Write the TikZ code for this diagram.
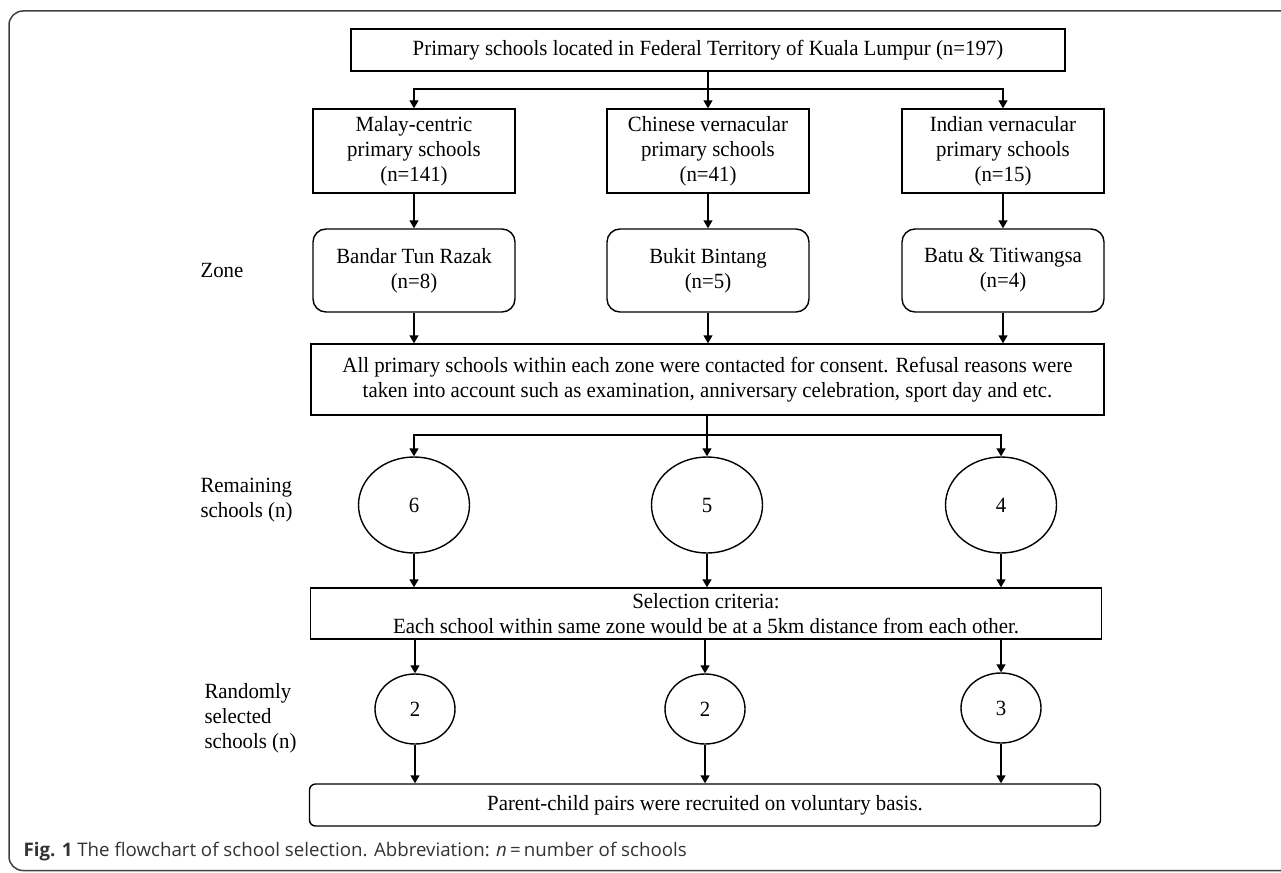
\documentclass[tikz,border=0pt]{standalone}
\usepackage{fontspec}
\setmainfont[FakeStretch=0.96]{Liberation Serif}
\newfontfamily\capfont{Open Sans}
\usetikzlibrary{arrows.meta}
\usetikzlibrary{positioning}
\usetikzlibrary{shapes.geometric}

\begin{document}
\begin{tikzpicture}
            [x=1pt, y=-1pt,
            every node/.style={font=\fontsize{21.7}{25}\selectfont},
            box/.style={draw, line width=1.4pt, inner sep=0pt, align=center},
            zonebox/.style={box, rounded corners=13pt},
            endbox/.style={box, rounded corners=6pt},
            count/.style={draw, ellipse, line width=1.4pt, inner sep=0pt},
            line/.style={line width=1.4pt},
            link/.style={line width=1.4pt, -{Triangle[length=8pt, width=9pt]}},
            ]
            \colorlet{framecolor}{black!75}
            \colorlet{captioncolor}{black!80}
            \useasboundingbox (0,0) rectangle (1281,872);
            % frame
            \draw[framecolor, line width=1.5pt, rounded corners=14pt]
                (1320,11) -- (9,11) -- (9,870.5) -- (1320,870.5);

            % schools
            \node[box, minimum width=714pt, minimum height=42pt] (schools) at (708,50)
                {Primary schools located in Federal Territory of Kuala Lumpur (n=197)};
            \node[box, minimum width=202pt, minimum height=84pt] (malay) at (414,151)
                {Malay-centric\\primary schools\\(n=141)};
            \node[box, minimum width=202pt, minimum height=84pt] (chinese) at (708,151)
                {Chinese vernacular\\primary schools\\(n=41)};
            \node[box, minimum width=202pt, minimum height=84pt] (indian) at (1003,151)
                {Indian vernacular\\primary schools\\(n=15)};

            % zones
            \node at (222,270) (zone) {Zone};
            \node[zonebox, minimum width=202pt, minimum height=83pt] (razak) at (414,270.5)
                {Bandar Tun Razak\\(n=8)};
            \node[zonebox, minimum width=202pt, minimum height=83pt] (bintang) at (708,270.5)
                {Bukit Bintang\\(n=5)};
            \node[zonebox, minimum width=202pt, minimum height=83pt] (titiwangsa) at (1003,270.5)
                {Batu \& Titiwangsa\\(n=4)};

            \node[box, minimum width=793pt, minimum height=71pt] (contact) at (707.5,379.5)
                {All primary schools within each zone were contacted for consent. Refusal reasons were\\
                 taken into account such as examination, anniversary celebration, sport day and etc.};

            % remaining
            \node[anchor=west, align=left] (remaining) at (197,500) {Remaining\\schools (n)};
            \node[count, minimum width=111pt, minimum height=96pt] (remain6) at (414,505) {6};
            \node[count, minimum width=111pt, minimum height=96pt] (remain5) at (707,505) {5};
            \node[count, minimum width=111pt, minimum height=96pt] (remain4) at (1001,505) {4};

            \node[box, minimum width=791pt, minimum height=51pt] (criteria) at (706,613.5)
                {Selection criteria:\\Each school within same zone would be at a 5km distance from each other.};

            % randomly selected
            \node[anchor=west, align=left] (randomly) at (201,718) {Randomly\\selected\\schools (n)};
            \node[count, minimum width=80pt, minimum height=70pt] (rand2a) at (415,709) {2};
            \node[count, minimum width=80pt, minimum height=70pt] (rand2b) at (705,709) {2};
            \node[count, minimum width=80pt, minimum height=70pt] (rand3) at (1001,708) {3};

            \node[endbox, minimum width=791pt, minimum height=42pt] (parents) at (705,805)
                {Parent-child pairs were recruited on voluntary basis.};

            % caption
            \node[anchor=west, text=captioncolor, font=\capfont\fontsize{18.7}{22}\selectfont] (caption) at (20,852)
                {\textbf{Fig. 1} The flowchart of school selection. Abbreviation: \textit{n}\,=\,number of schools};

            % links
            \coordinate (split1) at (708,89);
            \coordinate (split2) at (707,435);
            \draw[link] (schools) -- (chinese);
            \draw[link] (split1) -| (malay);
            \draw[link] (split1) -| (indian);

            \draw[link] (malay) -- (razak);
            \draw[link] (chinese) -- (bintang);
            \draw[link] (indian) -- (titiwangsa);

            \draw[link] (razak) -- (razak |- contact.north);
            \draw[link] (bintang) -- (bintang |- contact.north);
            \draw[link] (titiwangsa) -- (titiwangsa |- contact.north);

            \draw[line] (contact.south -| split2) -- (split2);
            \draw[link] (split2) -- (remain5);
            \draw[link] (split2) -| (remain6);
            \draw[link] (split2) -| (remain4);

            \draw[link] (remain6) -- (remain6 |- criteria.north);
            \draw[link] (remain5) -- (remain5 |- criteria.north);
            \draw[link] (remain4) -- (remain4 |- criteria.north);

            \draw[link] (rand2a |- criteria.south) -- (rand2a);
            \draw[link] (rand2b |- criteria.south) -- (rand2b);
            \draw[link] (rand3 |- criteria.south) -- (rand3);

            \draw[link] (rand2a) -- (rand2a |- parents.north);
            \draw[link] (rand2b) -- (rand2b |- parents.north);
            \draw[link] (rand3) -- (rand3 |- parents.north);
        \end{tikzpicture}
\end{document}
